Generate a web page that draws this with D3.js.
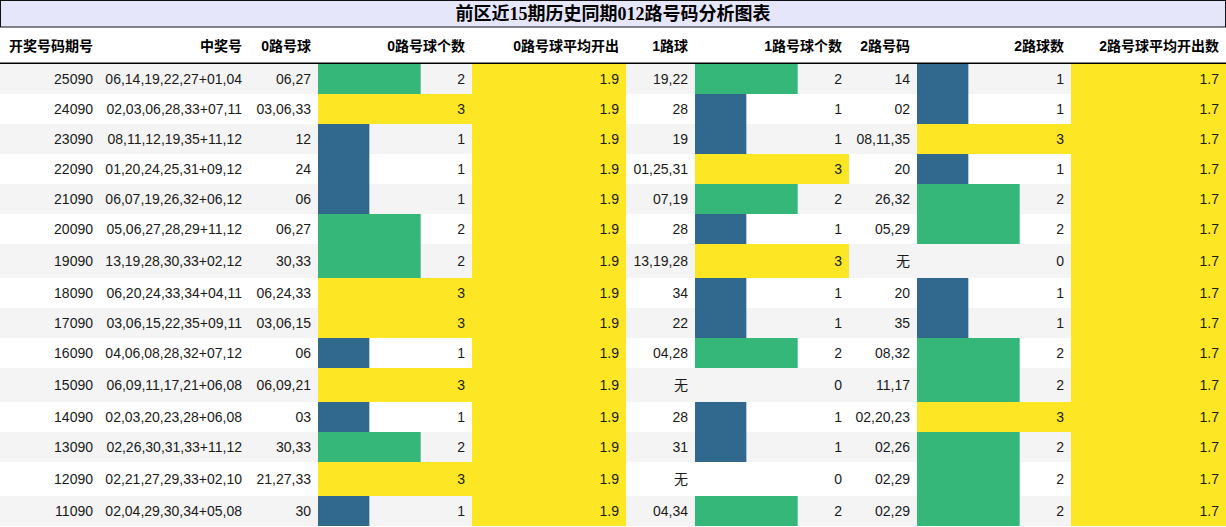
<!DOCTYPE html>
<html>
<head>
<meta charset="utf-8">
<script src="https://cdn.jsdelivr.net/npm/d3@7"></script>
<style>
  body { margin: 0; background: #fff; }
  svg { display: block; }
  .cell { font-family: "Liberation Sans", "Noto Sans CJK SC", sans-serif; font-size: 14px; fill: #1a1a1a; }
  .head { font-family: "Liberation Sans", "Noto Sans CJK SC", sans-serif; font-size: 14px; font-weight: bold; fill: #000; }
  .title { font-family: "Liberation Serif", "Noto Sans CJK SC", serif; font-size: 18px; font-weight: bold; fill: #000; }
</style>
</head>
<body>
<div id="table"></div>
<script>
const title = "前区近15期历史同期012路号码分析图表";
const headers = ["开奖号码期号", "中奖号", "0路号球", "0路号球个数", "0路号球平均开出",
  "1路球", "1路号球个数", "2路号码", "2路球数", "2路号球平均开出数"];

const periods = ["25090", "24090", "23090", "22090", "21090", "20090", "19090", "18090",
  "17090", "16090", "15090", "14090", "13090", "12090", "11090"];
const winning = ["06,14,19,22,27+01,04", "02,03,06,28,33+07,11", "08,11,12,19,35+11,12",
  "01,20,24,25,31+09,12", "06,07,19,26,32+06,12", "05,06,27,28,29+11,12",
  "13,19,28,30,33+02,12", "06,20,24,33,34+04,11", "03,06,15,22,35+09,11",
  "04,06,08,28,32+07,12", "06,09,11,17,21+06,08", "02,03,20,23,28+06,08",
  "02,26,30,31,33+11,12", "02,21,27,29,33+02,10", "02,04,29,30,34+05,08"];
const road0Balls = ["06,27", "03,06,33", "12", "24", "06", "06,27", "30,33", "06,24,33",
  "03,06,15", "06", "06,09,21", "03", "30,33", "21,27,33", "30"];
const road0Count = [2, 3, 1, 1, 1, 2, 2, 3, 3, 1, 3, 1, 2, 3, 1];
const road0Avg = [1.9, 1.9, 1.9, 1.9, 1.9, 1.9, 1.9, 1.9, 1.9, 1.9, 1.9, 1.9, 1.9, 1.9, 1.9];
const road1Balls = ["19,22", "28", "19", "01,25,31", "07,19", "28", "13,19,28", "34",
  "22", "04,28", "无", "28", "31", "无", "04,34"];
const road1Count = [2, 1, 1, 3, 2, 1, 3, 1, 1, 2, 0, 1, 1, 0, 2];
const road2Balls = ["14", "02", "08,11,35", "20", "26,32", "05,29", "无", "20", "35",
  "08,32", "11,17", "02,20,23", "02,26", "02,29", "02,29"];
const road2Count = [1, 1, 3, 1, 2, 2, 0, 1, 1, 2, 2, 3, 2, 2, 2];
const road2Avg = [1.7, 1.7, 1.7, 1.7, 1.7, 1.7, 1.7, 1.7, 1.7, 1.7, 1.7, 1.7, 1.7, 1.7, 1.7];

// column layout: kind decides how the cell is drawn
const columns = [
  { values: periods, kind: "text", width: 100 },
  { values: winning, kind: "text", width: 149 },
  { values: road0Balls, kind: "text", width: 69 },
  { values: road0Count, kind: "bar", width: 154 },
  { values: road0Avg, kind: "fill", width: 154, fmt: d3.format(".1f") },
  { values: road1Balls, kind: "text", width: 69 },
  { values: road1Count, kind: "bar", width: 154 },
  { values: road2Balls, kind: "text", width: 68 },
  { values: road2Count, kind: "bar", width: 154 },
  { values: road2Avg, kind: "fill", width: 155, fmt: d3.format(".1f") }
];

const W = 1226, H = 527;
const titleH = 27, headH = 36, pad = 7;

let acc = 0;
columns.forEach(c => { c.x0 = acc; acc += c.width; });

// rows holding the CJK "无" come out taller
const rowH = periods.map((p, i) => columns.some(c => c.values[i] === "无") ? 34 : 30);
const rowY = [];
let yy = titleH + headH + 1;
rowH.forEach(h => { rowY.push(yy); yy += h; });

const barX = d3.scaleLinear().domain([0, 3]).range([0, 154]);
const color = d3.scaleSequential(d3.interpolateViridis).domain([0, 3]);

const svg = d3.select("#table").append("svg")
  .attr("width", W)
  .attr("height", H);

// title bar
svg.append("rect")
  .attr("x", 0.5).attr("y", 0.5)
  .attr("width", W - 1).attr("height", titleH - 0.5)
  .attr("fill", "#e6e6fa")
  .attr("stroke", "#111");
svg.append("text")
  .attr("class", "title")
  .attr("x", W / 2).attr("y", 20)
  .attr("text-anchor", "middle")
  .text(title);

// header
svg.selectAll(".head")
  .data(headers)
  .join("text")
  .attr("class", "head")
  .attr("x", (d, i) => columns[i].x0 + columns[i].width - pad)
  .attr("y", titleH + 24)
  .attr("text-anchor", "end")
  .text(d => d);

svg.append("line")
  .attr("x1", 0).attr("x2", W)
  .attr("y1", titleH + headH + 0.25).attr("y2", titleH + headH + 0.25)
  .attr("stroke", "#000")
  .attr("stroke-width", 1.5);

// body rows
const rows = svg.selectAll(".row")
  .data(periods)
  .join("g")
  .attr("class", "row")
  .attr("transform", (d, i) => `translate(0,${rowY[i]})`);

rows.append("rect")
  .attr("width", W)
  .attr("height", (d, i) => rowH[i])
  .attr("fill", (d, i) => i % 2 === 0 ? "#f4f4f4" : "#ffffff");

columns.forEach(col => {
  if (col.kind === "bar") {
    rows.append("rect")
      .attr("x", col.x0)
      .attr("width", (d, i) => barX(col.values[i]))
      .attr("height", (d, i) => rowH[i])
      .attr("fill", (d, i) => color(col.values[i]));
  } else if (col.kind === "fill") {
    rows.append("rect")
      .attr("x", col.x0)
      .attr("width", col.width)
      .attr("height", (d, i) => rowH[i])
      .attr("fill", color(3));
  }
  rows.append("text")
    .attr("class", "cell")
    .attr("x", col.x0 + col.width - pad)
    .attr("y", (d, i) => rowH[i] / 2 + 5)
    .attr("text-anchor", "end")
    .text((d, i) => col.fmt ? col.fmt(col.values[i]) : col.values[i]);
});
</script>
</body>
</html>
